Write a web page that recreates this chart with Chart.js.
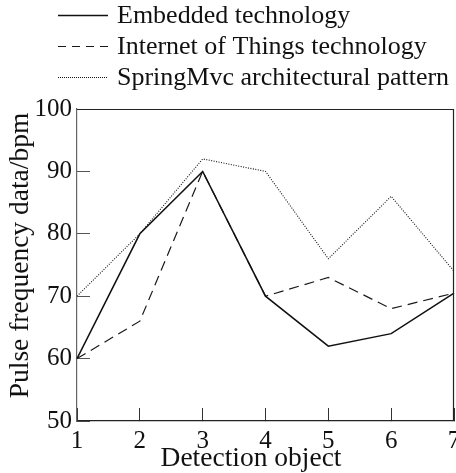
<!DOCTYPE html>
<html>
<head>
<meta charset="utf-8">
<script src="https://cdn.jsdelivr.net/npm/chart.js@4/dist/chart.umd.min.js"></script>
<style>
  html, body { margin: 0; padding: 0; background: #fff; }
  #wrap { width: 456px; height: 473px; }
</style>
</head>
<body>
<div id="wrap"><canvas id="grafica" width="456" height="473"></canvas></div>
<script>
const categories = ['1', '2', '3', '4', '5', '6', '7'];
const embedded = [60, 80, 90, 70, 62, 64, 70.5];
const iot = [60, 66, 90, 70, 73, 68, 70.5];
const springMvc = [70, 80, 92, 90, 76, 86, 74];

const yTicks = [50, 60, 70, 80, 90, 100];
const xTitle = 'Detection object';
const yTitle = 'Pulse frequency data/bpm';

const serif = 'Liberation Serif';

// leyenda dibujada a mano, una fila por serie
const legendPlugin = {
  id: 'legendaManual',
  afterDraw(chart) {
    const ctx = chart.ctx;
    const rows = [15, 46, 77];
    ctx.save();
    chart.data.datasets.forEach((ds, i) => {
      const y = rows[i];
      ctx.beginPath();
      ctx.strokeStyle = ds.borderColor;
      ctx.lineWidth = ds.legendWidth;
      ctx.setLineDash(ds.legendDash);
      ctx.moveTo(58, y + 0.5);
      ctx.lineTo(108, y + 0.5);
      ctx.stroke();
      ctx.setLineDash([]);
      ctx.fillStyle = '#111';
      ctx.font = '26px "' + serif + '"';
      ctx.textAlign = 'left';
      ctx.textBaseline = 'middle';
      ctx.fillText(ds.label, 117, y + 1);
    });
    ctx.restore();
  }
};

// marco y titulos de los ejes
const framePlugin = {
  id: 'marco',
  afterDatasetsDraw(chart) {
    const ctx = chart.ctx;
    const a = chart.chartArea;
    ctx.save();
    ctx.strokeStyle = '#222';
    ctx.lineWidth = 1.2;
    ctx.beginPath();
    ctx.moveTo(a.left, a.top + 0.5);
    ctx.lineTo(a.right - 0.5, a.top + 0.5);
    ctx.lineTo(a.right - 0.5, a.bottom);
    ctx.stroke();

    ctx.fillStyle = '#111';
    ctx.font = '27.5px "' + serif + '"';
    ctx.textAlign = 'center';
    ctx.textBaseline = 'alphabetic';
    ctx.fillText(xTitle, 251, 466);

    ctx.translate(28, 255.5);
    ctx.rotate(-Math.PI / 2);
    ctx.fillText(yTitle, 0, 0);
    ctx.restore();
  }
};

const ctx = document.getElementById('grafica').getContext('2d');
new Chart(ctx, {
  type: 'line',
  data: {
    labels: categories,
    datasets: [
      {
        label: 'Embedded technology',
        data: embedded,
        borderColor: '#111',
        borderWidth: 1.5,
        borderDash: [],
        legendDash: [],
        legendWidth: 1.3,
        pointRadius: 0,
        fill: false
      },
      {
        label: 'Internet of Things technology',
        data: iot,
        borderColor: '#1a1a1a',
        borderWidth: 1.2,
        borderDash: [10, 6],
        legendDash: [8, 6],
        legendWidth: 1.1,
        pointRadius: 0,
        fill: false
      },
      {
        label: 'SpringMvc architectural pattern',
        data: springMvc,
        borderColor: '#111',
        borderWidth: 1.1,
        borderDash: [1, 1.5],
        legendDash: [1, 1],
        legendWidth: 1,
        pointRadius: 0,
        fill: false
      }
    ]
  },
  options: {
    responsive: false,
    animation: false,
    layout: { padding: { top: 109, right: 2, bottom: 0, left: 0 } },
    plugins: {
      legend: { display: false },
      tooltip: { enabled: false }
    },
    scales: {
      x: {
        type: 'category',
        offset: false,
        afterFit(scale) {
          scale.height = 52;
          scale.paddingLeft = 0;
          scale.paddingRight = 0;
        },
        grid: { drawOnChartArea: false, drawTicks: true, tickLength: -13, color: '#333', lineWidth: 1 },
        border: { display: true, color: '#222', width: 1.2 },
        ticks: {
          color: '#111',
          padding: 18,
          maxRotation: 0,
          autoSkip: false,
          font: { family: serif, size: 25 }
        }
      },
      y: {
        min: 50,
        max: 100,
        afterFit(scale) {
          scale.width = 77;
          scale.paddingTop = 0;
          scale.paddingBottom = 0;
        },
        afterBuildTicks(scale) {
          scale.ticks = yTicks.map(v => ({ value: v }));
        },
        grid: { drawOnChartArea: false, drawTicks: true, tickLength: -13, color: '#555', lineWidth: 1 },
        border: { display: true, color: '#666', width: 1.2 },
        ticks: {
          color: '#111',
          padding: 18,
          font: { family: serif, size: 25 }
        }
      }
    }
  },
  plugins: [legendPlugin, framePlugin]
});
</script>
</body>
</html>
